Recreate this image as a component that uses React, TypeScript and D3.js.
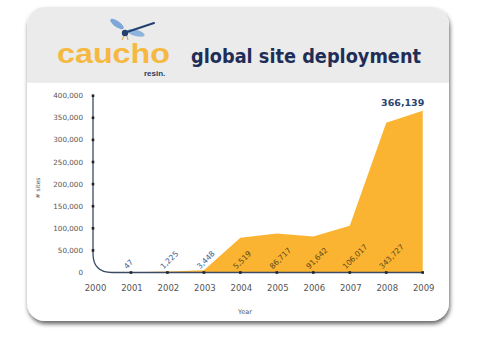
import React from "react";
import * as d3 from "d3";

const years = [2001, 2002, 2003, 2004, 2005, 2006, 2007, 2008, 2009];
const siteValues = [500, 2500, 5000, 78500, 88000, 81500, 106017, 339000, 366139];
const pointLabels = ["47", "1,225", "3,448", "5,519", "86,717", "91,642", "106,017", "343,727"];
const topLabel = "366,139";
const yTicks = [0, 50000, 100000, 150000, 200000, 250000, 300000, 350000, 400000];
const xTickYears = [2000, 2001, 2002, 2003, 2004, 2005, 2006, 2007, 2008, 2009];

const W = 479;
const H = 338;

export default function App() {
  const x = d3.scaleLinear().domain([2000, 2009]).range([94.5, 422.7]);
  const y = d3.scaleLinear().domain([0, 400000]).range([272.5, 95.7]);
  const fmt = d3.format(",");

  const area = d3
    .area<number>()
    .x((_, i) => x(years[i]))
    .y0(y(0))
    .y1((d) => y(d));

  const x0 = x(2000) - 1.5;
  const yb = y(0);
  const r = 19;
  const axisPath = `M${x0},${y(400000)} L${x0},${yb - r} Q${x0},${yb} ${x0 + r},${yb} L${x(2009)},${yb}`;

  return (
    <svg
      width={W}
      height={H}
      style={{ position: "absolute", left: 0, top: 0, background: "#fff" }}
      fontFamily="'DejaVu Sans', Verdana, sans-serif"
    >
      <defs>
        <filter id="shadow" x="-10%" y="-10%" width="120%" height="125%">
          <feDropShadow dx="1" dy="3" stdDeviation="2.2" floodColor="#000" floodOpacity="0.6" />
        </filter>
        <clipPath id="cardClip">
          <rect x={27} y={7} width={422} height={314} rx={18} />
        </clipPath>
      </defs>
      <rect x={27} y={7} width={422} height={314} rx={18} fill="#fff" filter="url(#shadow)" />
      <g clipPath="url(#cardClip)">
        <rect x={27} y={7} width={422} height={75} fill="#ebebeb" />
        <line x1={27} x2={449} y1={82} y2={82} stroke="#e2e2e2" />
      </g>

      {/* logo */}
      <g>
        <ellipse cx={117} cy={24} rx={8} ry={3} transform="rotate(35 117 24)" fill="#7fa6d8" />
        <ellipse cx={136} cy={33} rx={9} ry={3} transform="rotate(15 136 33)" fill="#8fb3df" />
        <line x1={124} y1={33} x2={154} y2={23} stroke="#23406e" strokeWidth={2} strokeLinecap="round" />
        <circle cx={125} cy={33} r={3.2} fill="#23406e" />
        <path d="M124,36 L122,40 M127,36 L128,40" stroke="#d9a43a" strokeWidth={1} />
        <text
          x={57}
          y={62.5}
          fontFamily="'Liberation Sans', Arial, sans-serif"
          fontWeight="bold"
          fontSize={28}
          fill="#f5b942"
          textLength={113}
          lengthAdjust="spacingAndGlyphs"
        >
          caucho
        </text>
        <text
          x={144}
          y={76}
          fontFamily="'Liberation Sans', Arial, sans-serif"
          fontWeight="bold"
          fontSize={8}
          fill="#2c3b63"
        >
          resin.
        </text>
      </g>
      <text
        x={191}
        y={63}
        fontFamily="'DejaVu Sans', Verdana, sans-serif"
        fontWeight="bold"
        fontSize={20}
        fill="#1f2d57"
        textLength={230}
        lengthAdjust="spacingAndGlyphs"
      >
        global site deployment
      </text>

      {/* area */}
      <path d={area(siteValues) || ""} fill="#fbb431" />

      {/* axis */}
      <path d={axisPath} fill="none" stroke="#3d4a66" strokeWidth={1.3} />
      {yTicks.map((t) =>
        t > 0 ? <rect key={"yd" + t} x={x0 - 1.3} y={y(t) - 1.3} width={2.6} height={2.6} fill="#222" /> : null
      )}
      {years.map((yr) => (
        <rect key={"xd" + yr} x={x(yr) - 1.3} y={yb - 1.3} width={2.6} height={2.6} fill="#222" />
      ))}

      {yTicks.map((t) => (
        <text key={"yt" + t} x={83} y={y(t) + 2.5} textAnchor="end" fontSize={7.2} fill="#555">
          {fmt(t)}
        </text>
      ))}
      {xTickYears.map((yr) => (
        <text key={"xt" + yr} x={x(yr) + 1} y={291} textAnchor="middle" fontSize={8.5} fill="#555">
          {yr}
        </text>
      ))}
      <text x={245} y={314} textAnchor="middle" fontSize={6.5} fill="#555">
        Year
      </text>
      <text
        x={40}
        y={188}
        textAnchor="middle"
        fontSize={6}
        fill="#555"
        transform="rotate(-90 40 188)"
      >
        # sites
      </text>

      {pointLabels.map((lab, i) => {
        const px = x(years[i]) - 4;
        const py = 269.5;
        return (
          <text
            key={"pl" + i}
            x={px}
            y={py}
            fontSize={7.6}
            fill={i < 3 ? "#3a5a8e" : "#5b4818"}
            transform={`rotate(-45 ${px} ${py})`}
          >
            {lab}
          </text>
        );
      })}
      <text
        x={x(2009) - 20}
        y={106}
        textAnchor="middle"
        fontSize={9.5}
        fontWeight="bold"
        fill="#2c4470"
      >
        {topLabel}
      </text>
    </svg>
  );
}
